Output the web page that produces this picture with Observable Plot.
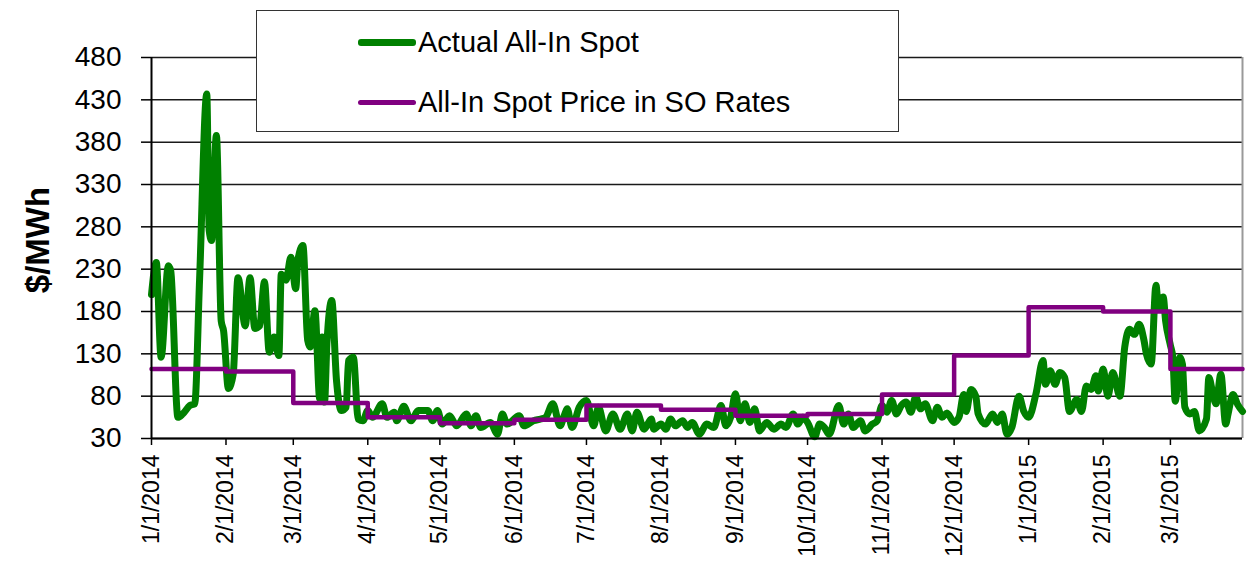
<!DOCTYPE html>
<html>
<head>
<meta charset="utf-8">
<script src="https://cdn.jsdelivr.net/npm/d3@7"></script>
<script src="https://cdn.jsdelivr.net/npm/@observablehq/plot@0.6"></script>
<style>
  html, body { margin: 0; padding: 0; background: #fff; }
  #wrap { position: relative; width: 1247px; height: 561px; font-family: "Liberation Sans", Arial, sans-serif; }
  .legend { position: absolute; left: 256px; top: 10px; width: 643px; height: 122px; border: 1.5px solid #333; background: #fff; box-sizing: border-box; }
  .sw { position: absolute; left: 101px; width: 58px; border-radius: 3px; }
  .lt { position: absolute; left: 161px; font-size: 29px; line-height: 32px; color: #000; white-space: nowrap; }
</style>
</head>
<body>
<div id="wrap">
  <div id="chart"></div>
  <div class="legend">
    <div class="sw" style="top:28px;height:7px;background:#008000"></div>
    <div class="lt" style="top:15px">Actual All-In Spot</div>
    <div class="sw" style="top:89px;height:5px;background:#800080"></div>
    <div class="lt" style="top:75px">All-In Spot Price in SO Rates</div>
  </div>
</div>
<script>
const yTicks = [30, 80, 130, 180, 230, 280, 330, 380, 430, 480];
const xTickDates = ["2014-01-01","2014-02-01","2014-03-01","2014-04-01","2014-05-01","2014-06-01","2014-07-01","2014-08-01","2014-09-01","2014-10-01","2014-11-01","2014-12-01","2015-01-01","2015-02-01","2015-03-01"];
const startDate = "2014-01-01";
const endDate = "2015-03-31";

// All-In Spot Price in SO Rates (monthly)
const soMonths = ["2014-01-01","2014-02-01","2014-03-01","2014-04-01","2014-05-01","2014-06-01","2014-07-01","2014-08-01","2014-09-01","2014-10-01","2014-11-01","2014-12-01","2015-01-01","2015-02-01","2015-03-01"];
const soRates = [112, 109, 72, 55, 48, 52, 69, 64, 57, 59, 82, 128, 185, 180, 112];

// Actual All-In Spot
const spotDates = [
"2014-01-01","2014-01-03","2014-01-05","2014-01-08","2014-01-09","2014-01-12","2014-01-14","2014-01-17","2014-01-19","2014-01-21",
"2014-01-24","2014-01-25","2014-01-26","2014-01-28","2014-01-30","2014-01-31","2014-02-02","2014-02-04","2014-02-06","2014-02-09",
"2014-02-11","2014-02-13","2014-02-15","2014-02-17","2014-02-19","2014-02-21","2014-02-23","2014-02-24","2014-02-26","2014-02-28",
"2014-03-02","2014-03-03","2014-03-05","2014-03-07","2014-03-08","2014-03-10","2014-03-12","2014-03-13","2014-03-14","2014-03-15",
"2014-03-17","2014-03-19","2014-03-21","2014-03-23","2014-03-24","2014-03-26","2014-03-28","2014-03-30","2014-04-01","2014-04-03",
"2014-04-07","2014-04-09","2014-04-12","2014-04-13","2014-04-16","2014-04-19","2014-04-22","2014-04-26","2014-04-28","2014-04-30",
"2014-05-02","2014-05-05","2014-05-08","2014-05-12","2014-05-14","2014-05-16","2014-05-18","2014-05-22","2014-05-25","2014-05-27",
"2014-05-29","2014-06-03","2014-06-05","2014-06-09","2014-06-12","2014-06-14","2014-06-17","2014-06-20","2014-06-22","2014-06-23",
"2014-06-25","2014-06-28","2014-07-01","2014-07-04","2014-07-06","2014-07-09","2014-07-12","2014-07-15","2014-07-18","2014-07-20",
"2014-07-22","2014-07-25","2014-07-28","2014-07-29","2014-08-01","2014-08-03","2014-08-05","2014-08-07","2014-08-10","2014-08-12",
"2014-08-14","2014-08-17","2014-08-20","2014-08-23","2014-08-26","2014-08-28","2014-08-30","2014-09-01","2014-09-03","2014-09-05",
"2014-09-07","2014-09-09","2014-09-11","2014-09-14","2014-09-17","2014-09-20","2014-09-22","2014-09-25","2014-09-27","2014-09-29",
"2014-10-01","2014-10-04","2014-10-06","2014-10-08","2014-10-10","2014-10-14","2014-10-16","2014-10-18","2014-10-20","2014-10-23",
"2014-10-25","2014-10-28","2014-10-30","2014-11-01","2014-11-03","2014-11-05","2014-11-07","2014-11-09","2014-11-11","2014-11-13",
"2014-11-15","2014-11-17","2014-11-19","2014-11-22","2014-11-24","2014-11-26","2014-11-28","2014-12-01","2014-12-03","2014-12-05",
"2014-12-06","2014-12-08","2014-12-10","2014-12-11","2014-12-14","2014-12-17","2014-12-19","2014-12-21","2014-12-23","2014-12-25",
"2014-12-28","2014-12-30","2015-01-01","2015-01-04","2015-01-07","2015-01-08","2015-01-10","2015-01-12","2015-01-14","2015-01-16",
"2015-01-18","2015-01-21","2015-01-23","2015-01-25","2015-01-27","2015-01-29","2015-01-30","2015-02-01","2015-02-03","2015-02-05",
"2015-02-08","2015-02-10","2015-02-12","2015-02-14","2015-02-16","2015-02-18","2015-02-19","2015-02-21","2015-02-23","2015-02-24",
"2015-02-26","2015-02-27","2015-03-01","2015-03-02","2015-03-03","2015-03-05","2015-03-06","2015-03-07","2015-03-09","2015-03-11",
"2015-03-13","2015-03-16","2015-03-17","2015-03-19","2015-03-20","2015-03-22","2015-03-24","2015-03-25","2015-03-27","2015-03-29",
"2015-03-31"];
const spotValues = [
200, 238, 126, 234, 228, 55, 59, 69, 71, 217,
437, 276, 264, 388, 169, 157, 89, 106, 220, 163,
220, 160, 163, 215, 132, 150, 128, 224, 217, 244,
207, 242, 258, 146, 138, 181, 77, 150, 73, 142,
193, 98, 63, 67, 122, 126, 53, 51, 63, 55,
71, 55, 61, 51, 68, 51, 63, 63, 51, 63,
47, 57, 45, 59, 45, 57, 43, 49, 35, 59,
47, 57, 45, 51, 53, 55, 71, 45, 59, 65,
43, 67, 75, 45, 67, 39, 59, 41, 59, 39,
61, 41, 53, 41, 47, 41, 53, 45, 51, 43,
49, 35, 47, 43, 69, 45, 55, 83, 51, 71,
49, 65, 39, 49, 41, 47, 43, 59, 47, 55,
49, 32, 47, 43, 35, 69, 47, 59, 43, 51,
39, 47, 51, 69, 61, 75, 59, 69, 73, 61,
79, 65, 71, 51, 67, 55, 60, 49, 55, 82,
62, 88, 80, 59, 47, 59, 49, 59, 35, 43,
80, 62, 55, 82, 122, 94, 110, 94, 108, 102,
62, 76, 62, 92, 88, 104, 86, 112, 80, 108,
80, 138, 159, 153, 165, 146, 130, 118, 211, 185,
197, 169, 140, 126, 74, 126, 118, 67, 59, 62,
39, 53, 102, 78, 71, 106, 47, 59, 82, 70,
62];

const spot = spotDates.map((d, i) => ({date: new Date(d), value: spotValues[i]}));
const so = soMonths.map((d, i) => ({date: new Date(d), value: soRates[i]}));
so.push({date: new Date(endDate), value: soRates[soRates.length - 1]});

const chart = Plot.plot({
  width: 1247,
  height: 561,
  marginLeft: 151,
  marginRight: 5,
  marginTop: 57,
  marginBottom: 123,
  style: {fontFamily: "'Liberation Sans', Arial, sans-serif", color: "#000", background: "#fff", overflow: "visible"},
  x: {type: "utc", domain: [new Date(startDate), new Date(endDate)]},
  y: {domain: [30, 480]},
  marks: [
    Plot.ruleY(yTicks, {stroke: "#1a1a1a", strokeWidth: 1.5}),
    Plot.ruleX([new Date(endDate)], {stroke: "#999", strokeWidth: 2}),
    Plot.axisY({ticks: yTicks, tickSize: 10, tickPadding: 20, fontSize: 28, label: null, stroke: "#000", strokeWidth: 1.5}),
    Plot.axisX({ticks: xTickDates.map(d => new Date(d)), tickFormat: d3.utcFormat("%-m/%-d/%Y"), tickRotate: -90, tickSize: 7, tickPadding: 9, fontSize: 23, label: null, stroke: "#000", strokeWidth: 1.5}),
    Plot.line(spot, {x: "date", y: "value", stroke: "#008000", strokeWidth: 7, curve: "monotone-x", strokeLinejoin: "round", strokeLinecap: "round"}),
    Plot.line(so, {x: "date", y: "value", stroke: "#800080", strokeWidth: 4.5, curve: "step-after"}),
    Plot.ruleY([30], {stroke: "#000", strokeWidth: 2}),
    Plot.ruleX([new Date(startDate)], {stroke: "#000", strokeWidth: 2}),
    Plot.text(["$/MWh"], {frameAnchor: "left", textAnchor: "middle", dx: -113, dy: -8, rotate: -90, fontSize: 33, fontWeight: "bold", fill: "#000"})
  ]
});
document.getElementById("chart").appendChild(chart);
</script>
</body>
</html>
